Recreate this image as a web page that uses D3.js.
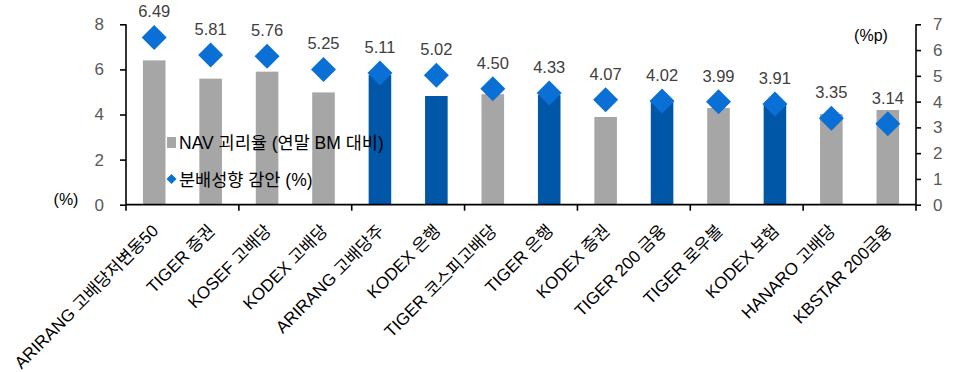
<!DOCTYPE html>
<html><head><meta charset="utf-8">
<script src="https://cdn.jsdelivr.net/npm/d3@7"></script>
<style>
body{margin:0;background:#fff;}
text{font-family:"Liberation Sans","Noto Sans CJK KR",Arial,sans-serif;}
</style></head>
<body><svg id="c" width="953" height="372"></svg>
<script>
const categories = ["ARIRANG 고배당저변동50","TIGER 증권","KOSEF 고배당","KODEX 고배당","ARIRANG 고배당주","KODEX 은행","TIGER 코스피고배당","TIGER 은행","KODEX 증권","TIGER 200 금융","TIGER 로우볼","KODEX 보험","HANARO 고배당","KBSTAR 200금융"];
const navGap = [6.40,5.59,5.90,4.98,5.75,4.82,4.90,4.86,3.89,4.61,4.29,4.47,4.02,4.20];
const payoutCut = [6.49,5.81,5.76,5.25,5.11,5.02,4.50,4.33,4.07,4.02,3.99,3.91,3.35,3.14];
const highlight = [false,false,false,false,true,true,false,true,false,true,false,true,false,false];
const leftTicks = [0,2,4,6,8];
const rightTicks = [0,1,2,3,4,5,6,7];
const legendLabels = ["NAV 괴리율 (연말 BM 대비)","분배성향 감안 (%)"];

const svg = d3.select("#c");
const X0 = 126, X1 = 916, Y0 = 204.7, YT = 24.3;
const x = d3.scaleBand().domain(categories).range([X0, X1]).paddingInner(0.6).paddingOuter(0.3);
const yL = d3.scaleLinear().domain([0,8]).range([Y0, YT]);
const yR = d3.scaleLinear().domain([0,7]).range([Y0, YT]);
const GRAY = "#a6a6a6", BAR_BLUE = "#0057a7", DIA = "#0a70d6";

// bars
svg.append("g").selectAll("rect").data(categories).join("rect")
  .attr("x", d => x(d)).attr("width", x.bandwidth())
  .attr("y", (d,i) => yL(navGap[i])).attr("height", (d,i) => Y0 - yL(navGap[i]))
  .attr("fill", (d,i) => highlight[i] ? BAR_BLUE : GRAY);

// axes
const axL = svg.append("g").attr("transform", `translate(${X0},0)`)
  .call(d3.axisLeft(yL).tickValues(leftTicks).tickSize(6).tickPadding(16).tickFormat(d3.format("d")));
const axR = svg.append("g").attr("transform", `translate(${X1},0)`)
  .call(d3.axisRight(yR).tickValues(rightTicks).tickSize(5).tickPadding(12).tickFormat(d3.format("d")));
[axL, axR].forEach(a => {
  a.select(".domain").attr("stroke", "#000").attr("stroke-width", 1.6).attr("d", `M0,${YT}V${Y0}`);
  a.selectAll(".tick line").attr("stroke", "#000").attr("stroke-width", 1.6);
  a.selectAll(".tick text").attr("fill", "#595959").attr("font-size", 17);
});

// x axis line with ticks every 2 categories
const step = x.step();
const boundaries = d3.range(0, categories.length + 1, 2).map(i => X0 + i * step);
const xg = svg.append("g");
xg.append("line").attr("x1", X0).attr("x2", X1).attr("y1", Y0).attr("y2", Y0).attr("stroke", "#000").attr("stroke-width", 1.8);
xg.selectAll("line.t").data(boundaries).join("line").attr("class","t")
  .attr("x1", d => d).attr("x2", d => d).attr("y1", Y0).attr("y2", Y0 + 6).attr("stroke", "#000").attr("stroke-width", 1.6);

// x labels
svg.append("g").selectAll("text").data(categories).join("text")
  .attr("transform", d => `translate(${x(d) + x.bandwidth()/2 + 1},${Y0 + 23}) rotate(-45)`)
  .attr("text-anchor", "end").attr("font-size", 17).attr("fill", "#000")
  .attr("dy", "0.35em").text(d => d);

// diamonds
const dsz = 12.5;
svg.append("g").selectAll("path").data(categories).join("path")
  .attr("transform", (d,i) => `translate(${x(d) + x.bandwidth()/2},${yR(payoutCut[i])})`)
  .attr("d", `M0,${-dsz}L${dsz},0L0,${dsz}L${-dsz},0Z`).attr("fill", DIA);

// value labels
svg.append("g").selectAll("text").data(categories).join("text")
  .attr("x", d => x(d) + x.bandwidth()/2).attr("y", (d,i) => yR(payoutCut[i]) - 20)
  .attr("text-anchor", "middle").attr("font-size", 16.5).attr("fill", "#404040")
  .text((d,i) => payoutCut[i].toFixed(2));

// unit labels
svg.append("text").attr("x", 66).attr("y", 205).attr("text-anchor","middle").attr("font-size",16).attr("fill","#000").text("(%)");
svg.append("text").attr("x", 871).attr("y", 41).attr("text-anchor","middle").attr("font-size",16).attr("fill","#000").text("(%p)");

// legend
const lg = svg.append("g");
lg.append("rect").attr("x", 167).attr("y", 137).attr("width", 9).attr("height", 11).attr("fill", GRAY);
lg.append("path").attr("transform","translate(171.5,179)").attr("d","M0,-5L5,0L0,5L-5,0Z").attr("fill", DIA);
lg.selectAll("text").data(legendLabels).join("text")
  .attr("x", 179).attr("y", (d,i) => i === 0 ? 143 : 180).attr("dy","0.36em")
  .attr("font-size", 17.5).attr("fill", "#000").text(d => d);
</script></body></html>
